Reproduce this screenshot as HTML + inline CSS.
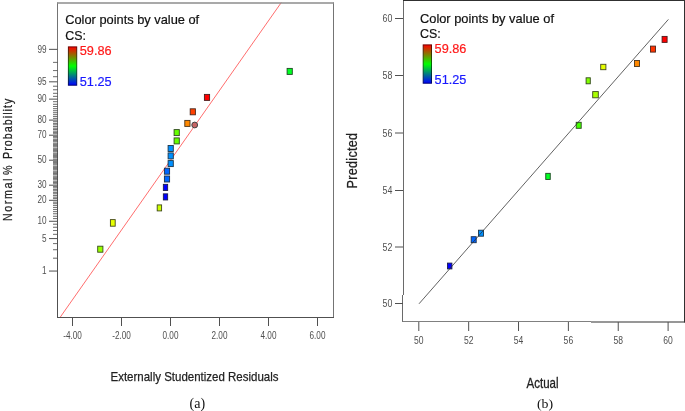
<!DOCTYPE html><html><head><meta charset="utf-8"><title>Diagnostics</title>
<style>html,body{margin:0;padding:0;background:#fff}body{width:685px;height:411px;overflow:hidden}svg{display:block;will-change:transform}text{font-family:"Liberation Sans",sans-serif}.s{font-family:"Liberation Serif",serif}</style></head><body>
<svg width="685" height="411" viewBox="0 0 685 411">
<rect width="685" height="411" fill="#fff"/>
<defs><linearGradient id="cb" x1="0" y1="0" x2="0" y2="1"><stop offset="0" stop-color="#ff0000"/><stop offset="0.5" stop-color="#00ff00"/><stop offset="1" stop-color="#0000ff"/></linearGradient><linearGradient id="cbd" x1="0" y1="0" x2="0" y2="1"><stop offset="0" stop-color="#700000"/><stop offset="0.5" stop-color="#007000"/><stop offset="1" stop-color="#000070"/></linearGradient></defs>
<line x1="60" y1="317.5" x2="281.3" y2="2.5" stroke="#ff5c5c" stroke-width="0.9"/>
<path d="M57.5 317.5V2.5M333.5 2.5V317.5" fill="none" stroke="#747474" stroke-width="1"/>
<path d="M57.0 3H334.0" fill="none" stroke="#8c8c8c" stroke-width="1.3"/>
<path d="M57.5 150V318.0M57.0 317.5H334.0" fill="none" stroke="#505050" stroke-width="1"/>
<path d="M53 258.06H57.5M53 249.82H57.5M53 243.62H57.5M53 234.28H57.5M53 230.52H57.5M53 227.15H57.5M53 224.09H57.5M53 218.64H57.5M53 216.19H57.5M53 213.87H57.5M53 211.68H57.5M53 209.59H57.5M53 207.59H57.5M53 205.67H57.5M53 203.82H57.5M53 202.03H57.5M53 198.63H57.5M53 197.00H57.5M53 195.41H57.5M53 193.86H57.5M53 192.34H57.5M53 190.86H57.5M53 189.40H57.5M53 187.97H57.5M53 186.57H57.5M53 183.83H57.5M53 182.49H57.5M53 181.16H57.5M53 179.85H57.5M53 178.56H57.5M53 177.28H57.5M53 176.01H57.5M53 174.76H57.5M53 173.51H57.5M53 172.27H57.5M53 171.04H57.5M53 169.82H57.5M53 168.60H57.5M53 167.39H57.5M53 166.19H57.5M53 164.99H57.5M53 163.79H57.5M53 162.59H57.5M53 161.39H57.5M53 159.01H57.5M53 157.81H57.5M53 156.61H57.5M53 155.41H57.5M53 154.21H57.5M53 153.01H57.5M53 151.80H57.5M53 150.58H57.5M53 149.36H57.5M53 148.13H57.5M53 146.89H57.5M53 145.64H57.5M53 144.39H57.5M53 143.12H57.5M53 141.84H57.5M53 140.55H57.5M53 139.24H57.5M53 137.91H57.5M53 136.57H57.5M53 133.83H57.5M53 132.43H57.5M53 131.00H57.5M53 129.54H57.5M53 128.06H57.5M53 126.54H57.5M53 124.99H57.5M53 123.40H57.5M53 121.77H57.5M53 118.37H57.5M53 116.58H57.5M53 114.73H57.5M53 112.81H57.5M53 110.81H57.5M53 108.72H57.5M53 106.53H57.5M53 104.21H57.5M53 101.76H57.5M53 96.31H57.5M53 93.25H57.5M53 89.88H57.5M53 86.12H57.5M53 76.78H57.5M53 70.58H57.5M53 62.34H57.5" stroke="#7c7c7c" stroke-width="0.85" fill="none"/>
<path d="M53 258.06H57.5M53 249.82H57.5M53 243.62H57.5M53 234.28H57.5M53 230.52H57.5M53 227.15H57.5M53 224.09H57.5M53 218.64H57.5M53 216.19H57.5M53 213.87H57.5M53 211.68H57.5M53 209.59H57.5M53 207.59H57.5M53 205.67H57.5M53 203.82H57.5M53 202.03H57.5M53 198.63H57.5M53 197.00H57.5M53 195.41H57.5M53 193.86H57.5M53 192.34H57.5M53 190.86H57.5M53 189.40H57.5M53 187.97H57.5M53 186.57H57.5M53 183.83H57.5M53 182.49H57.5M53 181.16H57.5M53 179.85H57.5M53 178.56H57.5M53 177.28H57.5M53 176.01H57.5M53 174.76H57.5M53 173.51H57.5M53 172.27H57.5M53 171.04H57.5M53 169.82H57.5M53 168.60H57.5M53 167.39H57.5M53 166.19H57.5M53 164.99H57.5M53 163.79H57.5M53 162.59H57.5M53 161.39H57.5M53 159.01H57.5M53 157.81H57.5M53 156.61H57.5M53 155.41H57.5M53 154.21H57.5M53 153.01H57.5M53 151.80H57.5M53 150.58H57.5M53 149.36H57.5M53 148.13H57.5M53 146.89H57.5M53 145.64H57.5M53 144.39H57.5M53 143.12H57.5M53 141.84H57.5M53 140.55H57.5M53 139.24H57.5M53 137.91H57.5M53 136.57H57.5M53 133.83H57.5M53 132.43H57.5M53 131.00H57.5M53 129.54H57.5M53 128.06H57.5M53 126.54H57.5M53 124.99H57.5M53 123.40H57.5M53 121.77H57.5M53 118.37H57.5M53 116.58H57.5M53 114.73H57.5M53 112.81H57.5M53 110.81H57.5M53 108.72H57.5M53 106.53H57.5M53 104.21H57.5M53 101.76H57.5M53 96.31H57.5M53 93.25H57.5M53 89.88H57.5M53 86.12H57.5M53 76.78H57.5M53 70.58H57.5M53 62.34H57.5" stroke="#333" stroke-opacity="0.3" stroke-width="1" fill="none" shape-rendering="crispEdges"/>
<path d="M49 271.05H57.5M49 238.58H57.5M49 221.27H57.5M49 200.30H57.5M49 185.19H57.5M49 160.20H57.5M49 135.21H57.5M49 120.10H57.5M49 99.13H57.5M49 81.82H57.5M49 49.35H57.5" stroke="#505050" stroke-width="1" fill="none"/>
<text x="46.5" y="274.25" font-size="10.5" fill="#505050" text-anchor="end" transform="translate(46.50 0) scale(0.78 1) translate(-46.50 0)">1</text>
<text x="46.5" y="241.78" font-size="10.5" fill="#505050" text-anchor="end" transform="translate(46.50 0) scale(0.78 1) translate(-46.50 0)">5</text>
<text x="46.5" y="224.47" font-size="10.5" fill="#505050" text-anchor="end" transform="translate(46.50 0) scale(0.78 1) translate(-46.50 0)">10</text>
<text x="46.5" y="203.50" font-size="10.5" fill="#505050" text-anchor="end" transform="translate(46.50 0) scale(0.78 1) translate(-46.50 0)">20</text>
<text x="46.5" y="188.39" font-size="10.5" fill="#505050" text-anchor="end" transform="translate(46.50 0) scale(0.78 1) translate(-46.50 0)">30</text>
<text x="46.5" y="163.40" font-size="10.5" fill="#505050" text-anchor="end" transform="translate(46.50 0) scale(0.78 1) translate(-46.50 0)">50</text>
<text x="46.5" y="138.41" font-size="10.5" fill="#505050" text-anchor="end" transform="translate(46.50 0) scale(0.78 1) translate(-46.50 0)">70</text>
<text x="46.5" y="123.30" font-size="10.5" fill="#505050" text-anchor="end" transform="translate(46.50 0) scale(0.78 1) translate(-46.50 0)">80</text>
<text x="46.5" y="102.33" font-size="10.5" fill="#505050" text-anchor="end" transform="translate(46.50 0) scale(0.78 1) translate(-46.50 0)">90</text>
<text x="46.5" y="85.02" font-size="10.5" fill="#505050" text-anchor="end" transform="translate(46.50 0) scale(0.78 1) translate(-46.50 0)">95</text>
<text x="46.5" y="52.55" font-size="10.5" fill="#505050" text-anchor="end" transform="translate(46.50 0) scale(0.78 1) translate(-46.50 0)">99</text>
<path d="M72.50 317.5V326M121.50 317.5V326M170.50 317.5V326M219.50 317.5V326M268.50 317.5V326M317.50 317.5V326" stroke="#505050" stroke-width="1" fill="none"/>
<text x="72.50" y="339" font-size="10" fill="#505050" text-anchor="middle" transform="translate(72.50 0) scale(0.82 1) translate(-72.50 0)">-4.00</text>
<text x="121.50" y="339" font-size="10" fill="#505050" text-anchor="middle" transform="translate(121.50 0) scale(0.82 1) translate(-121.50 0)">-2.00</text>
<text x="170.50" y="339" font-size="10" fill="#505050" text-anchor="middle" transform="translate(170.50 0) scale(0.82 1) translate(-170.50 0)">0.00</text>
<text x="219.50" y="339" font-size="10" fill="#505050" text-anchor="middle" transform="translate(219.50 0) scale(0.82 1) translate(-219.50 0)">2.00</text>
<text x="268.50" y="339" font-size="10" fill="#505050" text-anchor="middle" transform="translate(268.50 0) scale(0.82 1) translate(-268.50 0)">4.00</text>
<text x="317.50" y="339" font-size="10" fill="#505050" text-anchor="middle" transform="translate(317.50 0) scale(0.82 1) translate(-317.50 0)">6.00</text>
<rect x="97.70" y="246.20" width="5.2" height="6.0" fill="#99ff00" stroke="#37491c" stroke-width="0.9"/>
<rect x="110.40" y="219.60" width="4.8" height="6.6" fill="#e6ff00" stroke="#45491c" stroke-width="0.9"/>
<rect x="157.20" y="204.90" width="4.4" height="6.0" fill="#ccff00" stroke="#40491c" stroke-width="0.9"/>
<rect x="163.35" y="193.85" width="4.3" height="6.1" fill="#0000ff" stroke="#1c1c49" stroke-width="0.9"/>
<rect x="163.35" y="184.35" width="4.3" height="6.1" fill="#0000ff" stroke="#1c1c49" stroke-width="0.9"/>
<rect x="164.40" y="176.00" width="5.2" height="6.0" fill="#0066ff" stroke="#1c2e49" stroke-width="0.9"/>
<rect x="164.40" y="168.20" width="5.2" height="6.0" fill="#0066ff" stroke="#1c2e49" stroke-width="0.9"/>
<rect x="168.10" y="160.60" width="5.2" height="6.0" fill="#0090ff" stroke="#1c3549" stroke-width="0.9"/>
<rect x="168.10" y="152.90" width="5.2" height="6.0" fill="#0090ff" stroke="#1c3549" stroke-width="0.9"/>
<rect x="168.10" y="145.50" width="5.2" height="6.0" fill="#0090ff" stroke="#1c3549" stroke-width="0.9"/>
<rect x="174.10" y="137.90" width="5.2" height="6.0" fill="#66ff00" stroke="#2e491c" stroke-width="0.9"/>
<rect x="174.10" y="129.60" width="5.2" height="6.0" fill="#66ff00" stroke="#2e491c" stroke-width="0.9"/>
<rect x="184.80" y="120.40" width="5.2" height="6.0" fill="#ff8800" stroke="#49341c" stroke-width="0.9"/>
<rect x="190.20" y="108.80" width="5.2" height="6.0" fill="#ff4000" stroke="#49271c" stroke-width="0.9"/>
<rect x="204.40" y="94.40" width="5.2" height="6.0" fill="#ff0000" stroke="#491c1c" stroke-width="0.9"/>
<rect x="287.10" y="68.40" width="5.2" height="6.0" fill="#00ff22" stroke="#1c4922" stroke-width="0.9"/>
<circle cx="194.7" cy="125" r="2.9" fill="#c86464" stroke="#444" stroke-width="1"/>
<text x="65.20" y="23.90" font-size="12.8" fill="#111" stroke="#111" stroke-width="0.2" textLength="134" lengthAdjust="spacingAndGlyphs">Color points by value of</text>
<text x="65.20" y="40.00" font-size="12.8" fill="#111" stroke="#111" stroke-width="0.2" transform="translate(65.20 0) scale(0.97 1) translate(-65.20 0)">CS:</text>
<rect x="68.40" y="46.90" width="8.3" height="38.3" fill="url(#cb)" stroke="url(#cbd)" stroke-width="1"/>
<text x="79.80" y="55.00" font-size="13.4" fill="#ff1a1a" stroke="#ff1a1a" stroke-width="0.2" textLength="31.8" lengthAdjust="spacingAndGlyphs">59.86</text>
<text x="79.80" y="86.00" font-size="13.4" fill="#1a1aff" stroke="#1a1aff" stroke-width="0.2" textLength="31.8" lengthAdjust="spacingAndGlyphs">51.25</text>
<text transform="translate(11.6 221.0) rotate(-90) scale(0.8 1)" font-size="13.4" fill="#222" stroke="#222" stroke-width="0.25" letter-spacing="1.97">Normal</text>
<text transform="translate(11.6 175.0) rotate(-90) scale(0.8 1)" font-size="13.4" fill="#222" stroke="#222" stroke-width="0.25" letter-spacing="0">%</text>
<text transform="translate(11.6 159.0) rotate(-90) scale(0.8 1)" font-size="13.4" fill="#222" stroke="#222" stroke-width="0.25" letter-spacing="1.3">Probability</text>
<text x="194.5" y="381.1" font-size="13.5" fill="#222" stroke="#222" stroke-width="0.25" text-anchor="middle" textLength="168" lengthAdjust="spacingAndGlyphs">Externally Studentized Residuals</text>
<text class="s" x="197.3" y="408.1" font-size="14" fill="#111" text-anchor="middle">(a)</text>
<path d="M403.5 0V295M402.5 295V322" stroke="#6a6a6a" stroke-width="1" fill="none"/>
<path d="M402.5 321.5H591" stroke="#808080" stroke-width="1" fill="none"/>
<path d="M403 0.5H685" stroke="#303030" stroke-width="1.2" fill="none"/>
<path d="M684.5 0V322.5" stroke="#303030" stroke-width="1" fill="none"/>
<path d="M591 322H685" stroke="#303030" stroke-width="1.2" fill="none"/>
<path d="M418.80 322V331M395 303.5H403M468.66 322V331M395 247H403M518.52 322V331M395 190.5H403M568.38 322V331M395 133H403M618.24 322V331M395 75.5H403M668.10 322V331M395 18.5H403" stroke="#505050" stroke-width="1" fill="none"/>
<text x="418.80" y="344" font-size="11" fill="#505050" text-anchor="middle" transform="translate(418.80 0) scale(0.78 1) translate(-418.80 0)">50</text>
<text x="392.3" y="307.20" font-size="11.3" fill="#505050" text-anchor="end" transform="translate(392.30 0) scale(0.78 1) translate(-392.30 0)">50</text>
<text x="468.66" y="344" font-size="11" fill="#505050" text-anchor="middle" transform="translate(468.66 0) scale(0.78 1) translate(-468.66 0)">52</text>
<text x="392.3" y="250.70" font-size="11.3" fill="#505050" text-anchor="end" transform="translate(392.30 0) scale(0.78 1) translate(-392.30 0)">52</text>
<text x="518.52" y="344" font-size="11" fill="#505050" text-anchor="middle" transform="translate(518.52 0) scale(0.78 1) translate(-518.52 0)">54</text>
<text x="392.3" y="194.20" font-size="11.3" fill="#505050" text-anchor="end" transform="translate(392.30 0) scale(0.78 1) translate(-392.30 0)">54</text>
<text x="568.38" y="344" font-size="11" fill="#505050" text-anchor="middle" transform="translate(568.38 0) scale(0.78 1) translate(-568.38 0)">56</text>
<text x="392.3" y="136.70" font-size="11.3" fill="#505050" text-anchor="end" transform="translate(392.30 0) scale(0.78 1) translate(-392.30 0)">56</text>
<text x="618.24" y="344" font-size="11" fill="#505050" text-anchor="middle" transform="translate(618.24 0) scale(0.78 1) translate(-618.24 0)">58</text>
<text x="392.3" y="79.20" font-size="11.3" fill="#505050" text-anchor="end" transform="translate(392.30 0) scale(0.78 1) translate(-392.30 0)">58</text>
<text x="668.10" y="344" font-size="11" fill="#505050" text-anchor="middle" transform="translate(668.10 0) scale(0.78 1) translate(-668.10 0)">60</text>
<text x="392.3" y="22.20" font-size="11.3" fill="#505050" text-anchor="end" transform="translate(392.30 0) scale(0.78 1) translate(-392.30 0)">60</text>
<rect x="662.10" y="36.40" width="5.0" height="6.0" fill="#ff0000" stroke="#491c1c" stroke-width="0.9"/>
<rect x="650.50" y="46.10" width="5.0" height="6.0" fill="#ff3300" stroke="#49251c" stroke-width="0.9"/>
<rect x="634.50" y="60.50" width="5.0" height="6.0" fill="#ff8800" stroke="#49341c" stroke-width="0.9"/>
<rect x="600.70" y="64.30" width="5.2" height="5.4" fill="#e6ff00" stroke="#45491c" stroke-width="0.9"/>
<rect x="586.10" y="77.80" width="4.2" height="6.0" fill="#80ff00" stroke="#33491c" stroke-width="0.9"/>
<rect x="592.70" y="91.60" width="5.6" height="6.2" fill="#aaff00" stroke="#3a491c" stroke-width="0.9"/>
<rect x="576.20" y="122.30" width="5.0" height="6.0" fill="#44ff00" stroke="#28491c" stroke-width="0.9"/>
<rect x="545.75" y="173.35" width="4.5" height="6.1" fill="#00ff22" stroke="#1c4922" stroke-width="0.9"/>
<rect x="478.50" y="230.20" width="5.0" height="6.0" fill="#0090ff" stroke="#1c3549" stroke-width="0.9"/>
<rect x="471.20" y="236.70" width="5.0" height="6.0" fill="#0066ff" stroke="#1c2e49" stroke-width="0.9"/>
<rect x="447.50" y="263.10" width="4.4" height="5.8" fill="#0000ff" stroke="#1c1c49" stroke-width="0.9"/>
<line x1="419" y1="303.8" x2="668.4" y2="19.4" stroke="#2e2e2e" stroke-width="0.75"/>
<text x="420.00" y="22.50" font-size="12.8" fill="#111" stroke="#111" stroke-width="0.2" textLength="134" lengthAdjust="spacingAndGlyphs">Color points by value of</text>
<text x="420.00" y="38.00" font-size="12.8" fill="#111" stroke="#111" stroke-width="0.2" transform="translate(420.00 0) scale(0.97 1) translate(-420.00 0)">CS:</text>
<rect x="423.20" y="44.90" width="8.3" height="38.3" fill="url(#cb)" stroke="url(#cbd)" stroke-width="1"/>
<text x="434.60" y="53.00" font-size="13.4" fill="#ff1a1a" stroke="#ff1a1a" stroke-width="0.2" textLength="31.8" lengthAdjust="spacingAndGlyphs">59.86</text>
<text x="434.60" y="84.00" font-size="13.4" fill="#1a1aff" stroke="#1a1aff" stroke-width="0.2" textLength="31.8" lengthAdjust="spacingAndGlyphs">51.25</text>
<text transform="translate(356.5 188.4) rotate(-90) scale(0.88 1)" font-size="14.2" fill="#222" stroke="#222" stroke-width="0.25" letter-spacing="0.38">Predicted</text>
<text x="542.5" y="387.9" font-size="14.4" fill="#222" stroke="#222" stroke-width="0.3" text-anchor="middle" textLength="32" lengthAdjust="spacingAndGlyphs">Actual</text>
<text class="s" x="545.1" y="407.5" font-size="13" fill="#111" text-anchor="middle" textLength="16.2" lengthAdjust="spacingAndGlyphs">(b)</text>
</svg></body></html>
